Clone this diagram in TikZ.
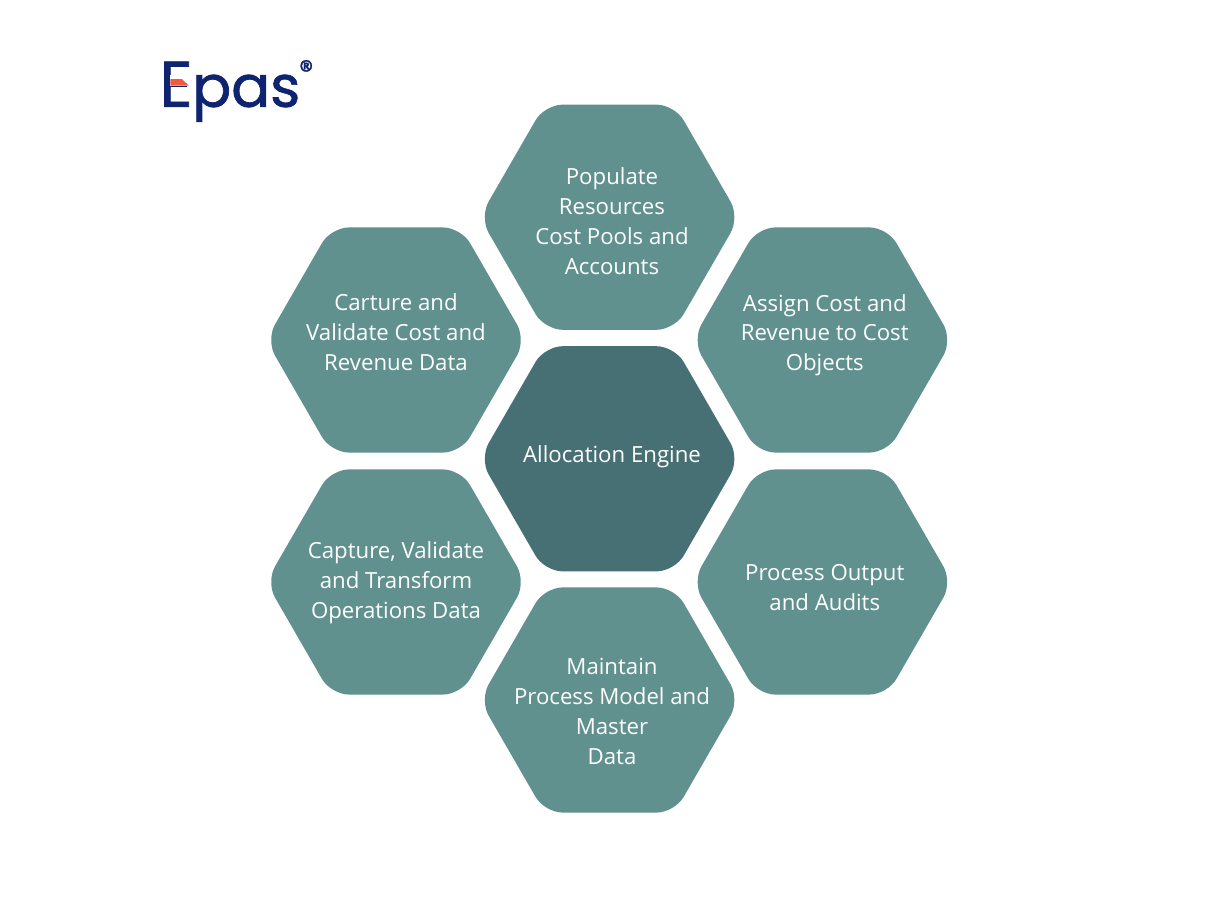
\documentclass[tikz,border=0pt]{standalone}
\usepackage{fontspec}
\setmainfont{Open Sans}
\newfontfamily\logofont[FakeBold=1.2]{Poppins}
\usetikzlibrary{shapes.geometric}

\definecolor{cellteal}{RGB}{96,145,143}
\definecolor{coreteal}{RGB}{71,112,117}
\definecolor{logonavy}{RGB}{14,36,112}
\definecolor{logored}{RGB}{241,90,60}

\tikzset{
	hexcell/.style={regular polygon, regular polygon sides=6, minimum size=6.5cm, inner sep=0pt, outer sep=0pt, rounded corners=0.45cm, fill=cellteal},
	celltext/.style={text=white, align=center, font=\fontsize{15.8}{21.3}\selectfont},
	logotext/.style={text=logonavy, inner sep=0pt, anchor=base west, font=\logofont}
}

\begin{document}
\begin{tikzpicture}[x=1cm, y=-1cm]
	\useasboundingbox (0,0) rectangle (30.475,22.95);

	% Hexagons
	\node[hexcell] (populate) at (15.24,5.43) {};
	\node[hexcell] (carture) at (9.9,8.5) {};
	\node[hexcell] (assign) at (20.56,8.5) {};
	\node[hexcell, fill=coreteal] (engine) at (15.24,11.47) {};
	\node[hexcell] (capture) at (9.9,14.55) {};
	\node[hexcell] (output) at (20.56,14.55) {};
	\node[hexcell] (maintain) at (15.24,17.5) {};

	% Labels
	\node[celltext] (populatetext) at (15.3,5.53) {Populate\\Resources\\Cost Pools and\\Accounts};
	\node[celltext] (carturetext) at (9.9,8.3) {Carture and\\Validate Cost and\\Revenue Data};
	\node[celltext] (assigntext) at (20.62,8.38) {Assign Cost and\\Revenue to Cost\\Objects};
	\node[celltext] (enginetext) at (15.3,11.42) {Allocation Engine};
	\node[celltext] (capturetext) at (9.9,14.57) {Capture, Validate\\and Transform\\Operations Data};
	\node[celltext] (outputtext) at (20.62,14.68) {Process Output\\and Audits};
	\node[celltext] (maintaintext) at (15.3,17.78) {Maintain\\Process Model and\\Master\\Data};

	% Logo
	\node[logotext, font=\logofont\fontsize{46}{46}\selectfont] (logoe) at (3.98,2.67) {E};
	\fill[white] (4.26,1.88) rectangle (4.86,2.16);
	\fill[logored] (4.26,1.98) -- (4.55,1.98) -- (4.72,2.14) -- (4.26,2.14) -- cycle;
	\node[logotext, font=\logofont\fontsize{41}{41}\selectfont] (logopas) at (4.8,2.67) {pas};
	\node[logotext, font=\logofont\fontsize{20}{20}\selectfont] (logoreg) at (7.47,2.0) {®};
\end{tikzpicture}
\end{document}
